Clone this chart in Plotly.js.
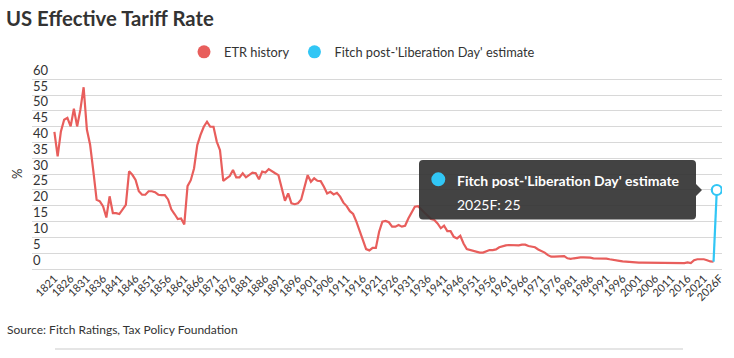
<!DOCTYPE html>
<html>
<head>
<meta charset="utf-8">
<script src="https://cdn.plot.ly/plotly-3.0.1.min.js"></script>
<style>
  html, body { margin: 0; padding: 0; background: #ffffff; }
  #chart { width: 734px; height: 358px; }
</style>
</head>
<body>
<div id="chart"></div>
<script>
// ---- Data ----
var historyYears = [];
for (var yr = 1821; yr <= 2024; yr++) historyYears.push(yr);

var etrHistory = [
  43.4, 35.6, 43.5, 47.2, 47.8, 45.1, 50.7, 45.1, 50.4, 57.5, // 1821-1830
  44.1, 39.3, 30.9, 21.9, 21.4, 19.8, 16.3, 23.0, 17.7, 17.7, // 1831-1840
  17.4, 19.0, 20.3, 30.9, 29.8, 28.2, 24.6, 23.5, 23.5, 24.6, // 1841-1850
  24.6, 24.3, 23.5, 23.4, 23.4, 22.0, 18.9, 17.4, 15.8, 16.0, // 1851-1860
  14.1, 26.2, 28.1, 31.8, 39.2, 42.4, 45.0, 46.6, 45.0, 45.0, // 1861-1870
  40.3, 37.6, 27.9, 28.7, 29.4, 31.3, 29.0, 29.0, 30.3, 29.0, // 1871-1880
  29.7, 30.5, 30.3, 28.4, 30.8, 30.5, 31.6, 30.8, 30.3, 29.7, // 1881-1890
  25.5, 21.6, 23.9, 20.8, 20.5, 20.8, 22.0, 25.5, 29.7, 27.6, // 1891-1900
  28.7, 27.9, 27.8, 26.0, 23.9, 24.4, 23.6, 24.1, 22.9, 21.0, // 1901-1910
  19.9, 18.3, 17.4, 15.0, 12.3, 9.2, 6.3, 5.9, 6.7, 6.7,      // 1911-1920
  11.8, 15.0, 15.2, 14.8, 13.4, 13.4, 13.9, 13.4, 13.7, 16.0, // 1921-1930
  18.1, 19.7, 19.9, 19.0, 17.8, 16.8, 15.8, 15.5, 14.4, 12.9, // 1931-1940
  13.7, 12.0, 12.0, 10.2, 9.7, 10.5, 8.1, 6.3, 6.0, 5.8,      // 1941-1950
  5.5, 5.2, 5.2, 5.5, 6.0, 6.0, 6.2, 6.9, 7.3, 7.5,           // 1951-1960
  7.6, 7.6, 7.4, 7.5, 7.7, 7.7, 7.3, 7.1, 6.9, 6.2,           // 1961-1970
  5.8, 5.2, 4.4, 3.9, 3.9, 3.9, 3.9, 4.1, 3.4, 3.2,           // 1971-1980
  3.4, 3.6, 3.7, 3.7, 3.7, 3.6, 3.4, 3.4, 3.4, 3.4,           // 1981-1990
  3.3, 3.1, 3.0, 2.8, 2.6, 2.4, 2.3, 2.1, 2.0, 2.0,           // 1991-2000
  2.0, 2.0, 2.0, 1.9, 1.8, 1.8, 1.8, 1.8, 1.8, 1.8,           // 2001-2010
  1.8, 1.8, 1.8, 1.8, 1.9, 2.1, 1.9, 2.8, 3.1, 3.1,           // 2011-2020
  3.1, 2.8, 2.4, 2.3                                          // 2021-2024
];

var forecastYears = [2024, 2025];
var forecastValues = [2.3, 25];
var forecastLabel = "2025F";

var tickYears = [];
for (var t = 1821; t <= 2026; t += 5) tickYears.push(t);
var tickLabels = tickYears.map(function (v) { return v === 2026 ? "2026F" : String(v); });

var yTicks = [0, 5, 10, 15, 20, 25, 30, 35, 40, 45, 50, 55, 60];

var seriesNames = ["ETR history", "Fitch post-'Liberation Day' estimate"];
var titleText = "US Effective Tariff Rate";
var yTitleText = "%";
var sourceText = "Source: Fitch Ratings, Tax Policy Foundation";

// ---- Styling ----
var RED = "#e85e5c";
var BLUE = "#31c6f5";
var FONT = "Lato, 'Open Sans', sans-serif";
var TEXT = "#333333";

var W = 734, H = 358;
var YMIN = -2.2, YMAX = 68;    // padding so the "0" and "60" labels stay inside the plot
var UNIT = 3.162;              // px per percentage point
var ZERO_Y = 269;              // pixel row of the 0 gridline
var M = { l: 32, r: 12 };
M.b = H - ZERO_Y + YMIN * UNIT * -1 * -1;   // placeholder, fixed below
M.b = H - (ZERO_Y - YMIN * UNIT);
M.t = ZERO_Y - YMAX * UNIT;
var PW = W - M.l - M.r, PH = H - M.t - M.b;
function px(x) { return (x - M.l) / PW; }
function py(y) { return (H - M.b - y) / PH; }

var traces = [
  {
    x: historyYears, y: etrHistory, type: "scatter", mode: "lines",
    line: { color: RED, width: 2.2 }, name: seriesNames[0], showlegend: false,
    hoverinfo: "skip"
  },
  {
    x: forecastYears, y: forecastValues, type: "scatter", mode: "lines+markers",
    line: { color: BLUE, width: 2.2 }, name: seriesNames[1], showlegend: false,
    marker: { size: [0, 10], color: "#ffffff", line: { color: BLUE, width: 2.2 }, opacity: [0, 1] },
    hoverinfo: "skip"
  },
  // legend entries (circle symbols only)
  {
    x: [null], y: [null], type: "scatter", mode: "markers", name: seriesNames[0],
    marker: { size: 13, color: RED }, hoverinfo: "skip"
  },
  {
    x: [null], y: [null], type: "scatter", mode: "markers", name: seriesNames[1],
    marker: { size: 13, color: BLUE }, hoverinfo: "skip"
  }
];

// Tooltip box (rounded rect with pointer)
var L = 419, R = 696, T = 160, B = 219.5, r = 4, tipX = 702, tipY = 190;
function P(x, y) { return px(x) + "," + py(y); }
var tipPath =
  "M" + P(L + r, T) + " L" + P(R - r, T) + " Q" + P(R, T) + " " + P(R, T + r) +
  " L" + P(R, tipY - 6) + " L" + P(tipX, tipY) + " L" + P(R, tipY + 6) +
  " L" + P(R, B - r) + " Q" + P(R, B) + " " + P(R - r, B) +
  " L" + P(L + r, B) + " Q" + P(L, B) + " " + P(L, B - r) +
  " L" + P(L, T + r) + " Q" + P(L, T) + " " + P(L + r, T) + " Z";

var layout = {
  width: W, height: H,
  margin: M,
  paper_bgcolor: "#ffffff", plot_bgcolor: "#ffffff",
  font: { family: FONT, color: TEXT, size: 12 },
  title: {
    text: "<b>" + titleText + "</b>",
    x: 6 / W, xanchor: "left", xref: "container",
    y: 1 - 19 / H, yanchor: "middle", yref: "container",
    font: { family: FONT, size: 20.3, color: TEXT }
  },
  showlegend: true,
  legend: {
    orientation: "h", x: px(362), xanchor: "center", y: py(52), yanchor: "middle",
    font: { family: FONT, size: 12.8, color: TEXT }, itemwidth: 30
  },
  hovermode: false,
  xaxis: {
    range: [1814.1, 2026.6],
    tickmode: "array", tickvals: tickYears, ticktext: tickLabels,
    tickangle: -45, showgrid: false, zeroline: false, showline: false, ticks: "",
    ticklabelstandoff: -Math.round(-YMIN * UNIT),
    tickfont: { family: FONT, size: 11, color: TEXT }, fixedrange: true
  },
  yaxis: {
    range: [YMIN, YMAX],
    tickmode: "array", tickvals: yTicks,
    ticklabelposition: "inside top",
    ticklabelshift: 2.5,
    ticklabelstandoff: -2,
    showgrid: true, gridcolor: "#d8d8d8", gridwidth: 1,
    zeroline: false, showline: false, ticks: "",
    tickfont: { family: FONT, size: 13, color: TEXT },
    automargin: false, fixedrange: true
  },
  shapes: [
    { type: "path", xref: "paper", yref: "paper", path: tipPath,
      fillcolor: "rgba(51,51,51,0.92)", line: { width: 0 }, layer: "above" },
    { type: "circle", xref: "paper", yref: "paper",
      x0: px(431.3), x1: px(445.3), y0: py(186.3), y1: py(172.3),
      fillcolor: BLUE, line: { width: 0 }, layer: "above" },
    { type: "line", xref: "paper", yref: "paper",
      x0: px(55), x1: px(683), y0: py(349), y1: py(349),
      line: { color: "#dddddd", width: 1.5 } }
  ],
  annotations: [
    { xref: "paper", yref: "paper", x: px(17), y: py(174), xanchor: "center", yanchor: "middle",
      text: yTitleText, textangle: -90, showarrow: false,
      font: { family: FONT, size: 13, color: TEXT } },
    { xref: "paper", yref: "paper", x: px(455), y: py(180), xanchor: "left", yanchor: "middle",
      text: "<b>" + seriesNames[1] + "</b>", showarrow: false,
      font: { family: FONT, size: 14, color: "#ffffff" } },
    { xref: "paper", yref: "paper", x: px(455), y: py(204), xanchor: "left", yanchor: "middle",
      text: forecastLabel + ": " + forecastValues[1], showarrow: false,
      font: { family: FONT, size: 14, color: "#ffffff" } },
    { xref: "paper", yref: "paper", x: px(5), y: py(329), xanchor: "left", yanchor: "middle",
      text: sourceText, showarrow: false,
      font: { family: FONT, size: 12, color: TEXT } }
  ]
};

Plotly.newPlot("chart", traces, layout, { displayModeBar: false, staticPlot: true });
</script>
</body>
</html>
